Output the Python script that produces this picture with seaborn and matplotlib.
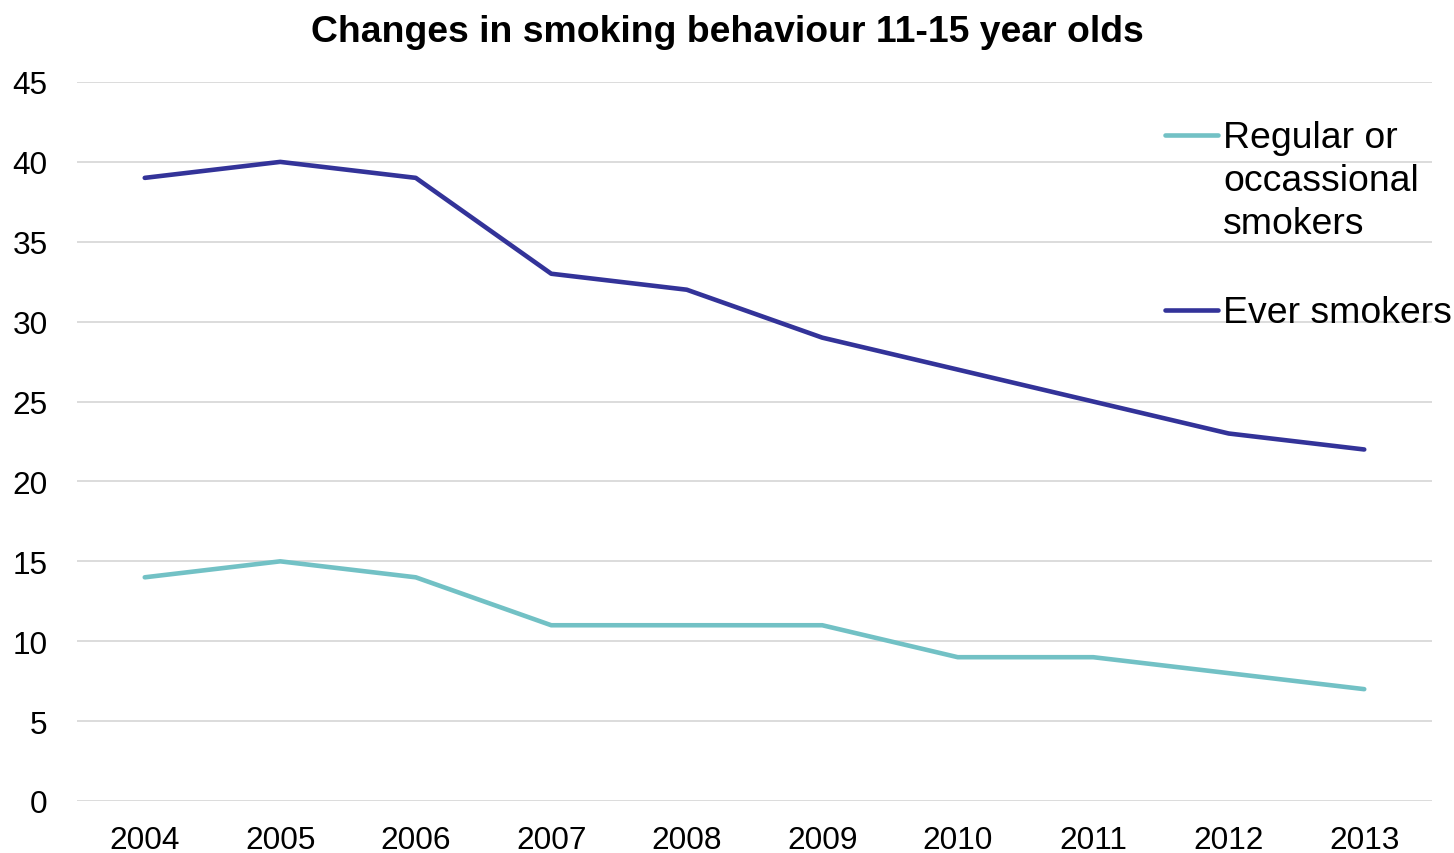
import matplotlib
matplotlib.use("Agg")
import matplotlib.pyplot as plt
import seaborn as sns
import pandas as pd

years = ["2004", "2005", "2006", "2007", "2008", "2009", "2010", "2011", "2012", "2013"]
regular = [14, 15, 14, 11, 11, 11, 9, 9, 8, 7]
ever = [39, 40, 39, 33, 32, 29, 27, 25, 23, 22]
series_names = ["Regular or\noccassional\nsmokers", "Ever smokers"]
colors = ["#72C1C5", "#333399"]
title = "Changes in smoking behaviour 11-15 year olds"
yticks = [0, 5, 10, 15, 20, 25, 30, 35, 40, 45]

sns.set_theme(style="white")
plt.rcParams["font.family"] = ["Liberation Sans", "DejaVu Sans"]
plt.rcParams["text.color"] = "black"

df = pd.DataFrame({
    "year": years * 2,
    "value": regular + ever,
    "series": [series_names[0]] * len(years) + [series_names[1]] * len(years),
})

fig = plt.figure(figsize=(14.54, 8.54), dpi=100)
ax = fig.add_axes([77 / 1454, 1 - 802 / 854, (1432 - 77) / 1454, (802 - 83) / 854])

sns.lineplot(data=df, x="year", y="value", hue="series", palette=colors,
             linewidth=3.3, ax=ax, sort=False, legend=True)

ax.set_xlim(-0.5, len(years) - 0.5)
ax.set_ylim(0, 45)
ax.set_yticks(yticks)
ax.set_yticklabels([str(t) for t in yticks])
ax.grid(axis="y", color="#D9D9D9", linewidth=1.3)
ax.grid(axis="x", visible=False)
ax.set_axisbelow(True)
for s in ax.spines.values():
    s.set_visible(False)
ax.tick_params(axis="y", length=0, pad=21, labelsize=22.8, labelcolor="black")
ax.tick_params(axis="x", length=0, pad=17, labelsize=22.8, labelcolor="black")
ax.set_xlabel("")
ax.set_ylabel("")

handles, labels = ax.get_legend_handles_labels()
ax.legend_.remove()
leg = fig.legend(handles, labels, loc="upper left",
                 bbox_to_anchor=(1165 / 1454, 1 - 121 / 854),
                 bbox_transform=fig.transFigure, frameon=False,
                 fontsize=26.9, handlelength=1.42, handletextpad=0.13,
                 borderpad=0, borderaxespad=0, labelspacing=1.45, handleheight=1.1)
for t in leg.get_texts():
    t.set_linespacing(1.29)
    t.set_color("black")
for col in leg._legend_handle_box.get_children():
    for entry in col.get_children():
        entry.align = "top"

fig.text(0.5, 1 - 32 / 854, title, ha="center", va="center",
         fontsize=26.9, fontweight="bold", color="black")

fig.savefig("out.png", dpi=100)
